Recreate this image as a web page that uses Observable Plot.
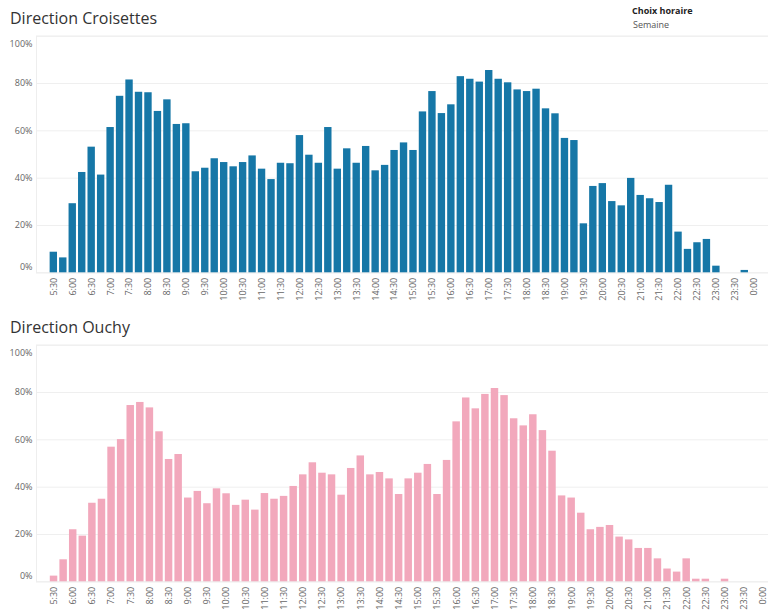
<!DOCTYPE html>
<html>
<head>
<meta charset="utf-8">
<script src="https://cdn.jsdelivr.net/npm/d3@7"></script>
<script src="https://cdn.jsdelivr.net/npm/@observablehq/plot@0.6"></script>
<style>
  html, body { margin: 0; padding: 0; overflow: hidden; background: #fff; }
  #root { position: relative; width: 768px; height: 612px; overflow: hidden; font-family: "Open Sans", "Noto Sans", sans-serif; }
  .title { position: absolute; left: 10px; font-size: 16px; line-height: 20px; color: #333; white-space: nowrap; }
  .legend-h { position: absolute; left: 632px; top: 4px; font-size: 9px; font-weight: bold; color: #222; line-height: 14px; }
  .legend-v { position: absolute; left: 633px; top: 18px; font-size: 9px; color: #555; line-height: 14px; }
  .panel { position: absolute; left: 0; width: 790px; }
  .panel svg { max-width: none !important; }
</style>
</head>
<body>
<div id="root">
  <div class="title" style="top:8px">Direction Croisettes</div>
  <div class="legend-h">Choix horaire</div>
  <div class="legend-v">Semaine</div>
  <div class="panel" id="p1" style="top:0px"></div>
  <div class="title" style="top:317px">Direction Ouchy</div>
  <div class="panel" id="p2" style="top:308.6px"></div>
</div>
<script>
const slotsCroisettes = ["5:30","5:45","6:00","6:15","6:30","6:45","7:00","7:15","7:30","7:45","8:00","8:15","8:30","8:45","9:00","9:15","9:30","9:45","10:00","10:15","10:30","10:45","11:00","11:15","11:30","11:45","12:00","12:15","12:30","12:45","13:00","13:15","13:30","13:45","14:00","14:15","14:30","14:45","15:00","15:15","15:30","15:45","16:00","16:15","16:30","16:45","17:00","17:15","17:30","17:45","18:00","18:15","18:30","18:45","19:00","19:15","19:30","19:45","20:00","20:15","20:30","20:45","21:00","21:15","21:30","21:45","22:00","22:15","22:30","22:45","23:00","23:15","23:30","23:45","0:00","0:15","0:30"];
const valuesCroisettes = [8.7,6.3,29.2,42.4,53.1,41.3,61.4,74.6,81.5,76.3,76.1,68.2,73.1,62.7,63.0,42.7,44.2,48.2,46.6,44.8,46.6,49.4,43.8,39.4,46.3,46.1,58.0,49.7,46.3,61.4,43.8,52.4,46.3,53.4,43.1,45.4,51.7,54.9,51.7,68.0,76.6,67.3,71.0,82.9,81.8,80.6,85.5,81.8,80.3,77.3,76.6,77.6,69.3,67.2,56.8,55.9,20.7,36.5,37.7,30.1,28.3,39.9,32.7,31.3,29.7,37.0,17.2,9.9,12.7,14.1,2.8,null,null,1.0,null,null,null];

const slotsOuchy = ["5:30","5:45","6:00","6:15","6:30","6:45","7:00","7:15","7:30","7:45","8:00","8:15","8:30","8:45","9:00","9:15","9:30","9:45","10:00","10:15","10:30","10:45","11:00","11:15","11:30","11:45","12:00","12:15","12:30","12:45","13:00","13:15","13:30","13:45","14:00","14:15","14:30","14:45","15:00","15:15","15:30","15:45","16:00","16:15","16:30","16:45","17:00","17:15","17:30","17:45","18:00","18:15","18:30","18:45","19:00","19:15","19:30","19:45","20:00","20:15","20:30","20:45","21:00","21:15","21:30","21:45","22:00","22:15","22:30","22:45","23:00","23:15","23:30","23:45","0:00","0:15"];
const valuesOuchy = [2.4,9.3,22.0,19.3,33.2,34.9,56.9,60.1,74.5,75.8,73.5,63.4,51.7,53.8,35.4,38.2,33.0,39.3,37.2,32.3,34.5,30.3,37.3,34.9,36.1,40.3,45.2,50.3,45.9,45.2,36.6,47.9,53.2,45.2,46.2,43.5,36.9,43.5,45.9,49.6,36.9,51.3,67.6,77.7,73.1,79.2,81.7,78.7,68.9,65.9,70.6,63.9,55.2,36.3,35.4,29.0,22.0,23.0,23.8,18.9,17.7,14.1,14.1,9.7,5.4,4.1,9.7,1.1,1.1,null,1.1,null,null,null,null,null];

const yTicks = [0, 20, 40, 60, 80, 100];
const colorCroisettes = "#1677a7";
const colorOuchy = "#f2a8bc";

function panel(slots, values, color) {
  const data = slots.map((s, i) => ({slot: s, value: values[i]})).filter(d => d.value != null);
  const labeled = slots.filter(s => s.endsWith(":00") || s.endsWith(":30"));
  const fmt = d => d + "%";
  return Plot.plot({
    width: 790,
    height: 305,
    marginTop: 35.7,
    marginBottom: 32.7,
    marginLeft: 36,
    marginRight: 0,
    style: {fontFamily: "'Open Sans', 'Noto Sans', sans-serif", background: "transparent", maxWidth: "none"},
    x: {domain: slots, paddingInner: 0.22, paddingOuter: 1.44, align: 0.5, axis: null},
    y: {domain: [0, 100], axis: null},
    marks: [
      Plot.gridY(yTicks, {stroke: "#efefef", strokeOpacity: 1}),
      Plot.frame({stroke: "#eeeeee"}),
      Plot.barY(data, {x: "slot", y: "value", fill: color}),
      Plot.text(yTicks.filter(t => t > 0 && t < 100), {y: d => d, text: fmt, frameAnchor: "left", textAnchor: "end", dx: -4, fontSize: 9, fill: "#666"}),
      Plot.text([100], {y: d => d, text: fmt, frameAnchor: "left", textAnchor: "end", dx: -4, dy: 8, fontSize: 9, fill: "#666"}),
      Plot.text([0], {y: d => d, text: fmt, frameAnchor: "left", textAnchor: "end", dx: -4, dy: -5.5, fontSize: 9, fill: "#666"}),
      Plot.axisX({ticks: labeled, tickSize: 0, tickPadding: 5, tickRotate: -90, fontSize: 9, fill: "#666", label: null})
    ]
  });
}

document.getElementById("p1").appendChild(panel(slotsCroisettes, valuesCroisettes, colorCroisettes));
document.getElementById("p2").appendChild(panel(slotsOuchy, valuesOuchy, colorOuchy));
</script>
</body>
</html>
